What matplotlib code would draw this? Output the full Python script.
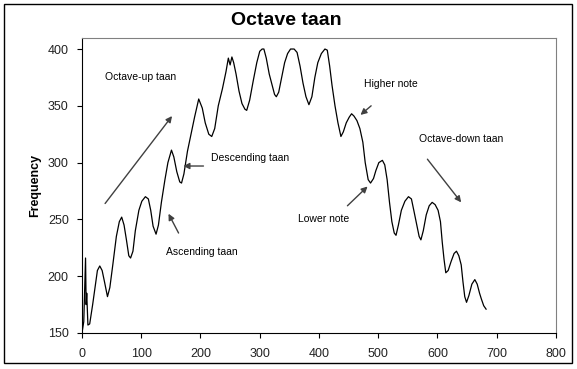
import matplotlib.pyplot as plt
from matplotlib.patches import Rectangle

plt.rcParams['font.family'] = ['Liberation Sans', 'DejaVu Sans']

# pitch track (sample index, frequency)
sample = [0, 3, 6, 7, 8, 10, 13, 18, 22, 26, 30, 34, 38, 43, 47, 52, 58, 63, 67, 71,
          75, 79, 82, 86, 90, 96, 101, 107, 112, 116, 120, 125, 129, 134, 140, 145, 151, 155,
          160, 165, 168, 172, 178, 184, 190, 197, 203, 208, 214, 219, 224, 230, 237, 243, 247,
          250, 253, 256, 260, 265, 270, 275, 278, 283, 289, 295, 300, 304, 307, 311, 316, 320,
          325, 328, 332, 337, 342, 347, 352, 358, 363, 368, 373, 378, 383, 388, 393, 398, 404,
          410, 414, 418, 422, 427, 432, 437, 441, 446, 451, 455, 459, 464, 469, 474, 478, 483,
          487, 492, 496, 501, 507, 511, 515, 519, 523, 527, 530, 534, 539, 545, 551, 556, 560,
          565, 569, 572, 576, 581, 586, 591, 596, 601, 605, 608, 611, 614, 618, 623, 628, 632,
          636, 640, 643, 646, 649, 653, 658, 663, 667, 671, 674, 678, 682]
freq = [150, 160, 216, 175, 185, 157, 158, 175, 190, 205, 209, 205, 195, 182, 190, 210, 235, 248, 252, 245,
        232, 218, 216, 222, 240, 258, 266, 270, 268, 258, 244, 237, 245, 265, 285, 300, 311, 305,
        292, 283, 282, 290, 310, 325, 340, 356, 348, 335, 325, 323, 330, 350, 365, 380, 392,
        386, 393, 388, 378, 363, 352, 347, 346, 355, 372, 388, 398, 400, 400, 392, 378, 370,
        360, 358, 362, 375, 388, 396, 400, 400, 397, 385, 370, 358, 351, 358, 375, 388, 396,
        400, 399, 385, 368, 350, 335, 323, 327, 335, 340, 343, 341, 337, 330, 318, 300, 285,
        282, 286, 293, 300, 302, 298, 285, 265, 248, 238, 236, 245, 258, 266, 270, 268, 258,
        245, 235, 232, 240, 254, 262, 265, 263, 258, 248, 230, 215, 203, 205, 213, 220, 222,
        218, 210, 195, 182, 177, 183, 193, 197, 193, 185, 180, 174, 171]

# annotations: label, text pos, arrow tail, arrow head
notes = [
    ("Octave-up taan", (39, 375), (39, 264), (152, 341)),
    ("Descending taan", (218, 304), (205, 297), (171, 297)),
    ("Ascending taan", (142, 221), (163, 238), (146, 255)),
    ("Higher note", (476, 369), (488, 350), (470, 342)),
    ("Lower note", (365, 250), (448, 262), (482, 279)),
    ("Octave-down taan", (569, 321), (583, 303), (640, 265)),
]

fig = plt.figure(figsize=(5.77, 3.69), dpi=100)
ax = fig.add_axes([0.1421, 0.0976, 0.8215, 0.7994])

ax.plot(sample, freq, color='black', lw=0.9)

ax.set_xlim(0, 800)
ax.set_ylim(150, 409.7)
ax.set_xticks(range(0, 801, 100))
ax.set_yticks(range(150, 401, 50))
ax.tick_params(direction='out', length=3.5, width=0.8, labelsize=9,
               colors='black', labelcolor='#222222')
ax.tick_params(axis='x', pad=7)
ax.tick_params(axis='y', pad=6)
for s in ['top', 'right']:
    ax.spines[s].set_color('#808080')
for s in ax.spines.values():
    s.set_linewidth(0.8)

ax.set_ylabel('Frequency', fontsize=9, fontweight='bold', labelpad=5)
fig.text(0.497, 0.944, 'Octave taan', ha='center', va='center', fontsize=14, fontweight='bold')

for label, tpos, tail, head in notes:
    ax.text(tpos[0], tpos[1], label, fontsize=7.5, ha='left', va='center')
    ax.annotate('', xy=head, xytext=tail,
                arrowprops=dict(arrowstyle='-|>', color='#404040', lw=1.0,
                                mutation_scale=9, shrinkA=0, shrinkB=0))

fig.patches.append(Rectangle((4 / 577, 1 - 363 / 369), 568 / 577, 359 / 369,
                             transform=fig.transFigure, fill=False,
                             edgecolor='black', lw=1.0))

fig.savefig('out.png', dpi=100)
